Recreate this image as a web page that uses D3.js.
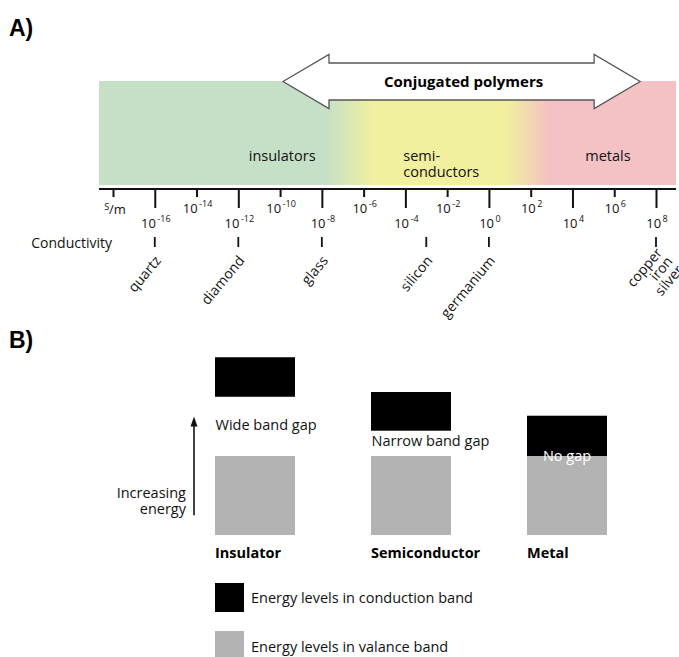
<!DOCTYPE html>
<html><head><meta charset="utf-8">
<script src="https://cdn.jsdelivr.net/npm/d3@7"></script>
<style>
body{margin:0;background:#fff;}
svg{display:block;font-family:"Open Sans",sans-serif;}
</style></head>
<body><svg id="c" width="679" height="657"></svg>
<script>
// ---------- Panel A data ----------
const tickExponents = [-18,-16,-14,-12,-10,-8,-6,-4,-2,0,2,4,6,8];
const majorExponents = [-16,-12,-8,-4,0,4,8];
const materialNames = [["quartz"],["diamond"],["glass"],["silicon"],["germanium"],["copper","iron","silver"]];
const materialExponents = [-16,-12,-8,-3,0,8];
const regionNames = [["insulators"],["semi-","conductors"],["metals"]];
const regionExponents = [-9.9,-4.1,5.7];
const regionAnchors = ["middle","start","middle"];
const bandExtent = [-18.67, 8.96];
const gradientExponents = [-7.9,-5.45,0.8,2.9];
const gradientColors = ["#c6dfc7","#f1f09e","#f1f09e","#f4c1c5"];
const conjugatedRange = [-9.86, 7.24];
const conjugatedLabel = "Conjugated polymers";

// ---------- Panel B data ----------
const bandMaterials = ["Insulator","Semiconductor","Metal"];
const valenceBottom = [0,0,0];
const valenceTop = [1,1,1];
const conductionBottom = [1.75,1.32,1.0];
const conductionTop = [2.25,1.81,1.51];
const gapLabels = ["Wide band gap","Narrow band gap","No gap"];
const gapLabelEnergy = [1.33,1.13,0.94];
const energyArrow = [0.25,1.5];
const legendLabels = ["Energy levels in conduction band","Energy levels in valance band"];
const legendColors = ["#000000","#b3b3b3"];

const svg = d3.select("#c");

// Panel labels
svg.append("text").attr("x",9).attr("y",36).attr("font-family","Liberation Sans, Arial, sans-serif")
  .attr("font-weight","bold").attr("font-size",23).text("A)");
svg.append("text").attr("x",9).attr("y",348).attr("font-family","Liberation Sans, Arial, sans-serif")
  .attr("font-weight","bold").attr("font-size",23).text("B)");

// ---------- Panel A ----------
const x = d3.scaleLinear().domain([-18,8]).range([113,656]);
const bandTop = 81, bandBottom = 185, axisY = 189;

const defs = svg.append("defs");
const grad = defs.append("linearGradient").attr("id","cond").attr("gradientUnits","userSpaceOnUse")
  .attr("x1",x(bandExtent[0])).attr("x2",x(bandExtent[1])).attr("y1",0).attr("y2",0);
gradientExponents.forEach((e,i)=>{
  grad.append("stop").attr("offset",(x(e)-x(bandExtent[0]))/(x(bandExtent[1])-x(bandExtent[0])))
    .attr("stop-color",gradientColors[i]);
});
svg.append("rect").attr("x",x(bandExtent[0])).attr("y",bandTop)
  .attr("width",x(bandExtent[1])-x(bandExtent[0])).attr("height",bandBottom-bandTop)
  .attr("fill","url(#cond)");

// Double arrow
const ax0 = x(conjugatedRange[0]), ax1 = x(conjugatedRange[1]), cy = 81.5, head = 46, sh = 18.5, hh = 27;
const pts = [[ax0,cy],[ax0+head,cy-hh],[ax0+head,cy-sh],[ax1-head,cy-sh],[ax1-head,cy-hh],[ax1,cy],
  [ax1-head,cy+hh],[ax1-head,cy+sh],[ax0+head,cy+sh],[ax0+head,cy+hh]];
svg.append("polygon").attr("points",pts.map(p=>p.join(",")).join(" "))
  .attr("fill","#fff").attr("stroke","#555").attr("stroke-width",1.3).attr("stroke-linejoin","miter");
svg.append("text").attr("x",(ax0+ax1)/2+2).attr("y",87).attr("text-anchor","middle")
  .attr("font-weight","bold").attr("font-size",15).attr("fill","#000").text(conjugatedLabel);

// Region labels
regionNames.forEach((lines,i)=>{
  const t = svg.append("text").attr("text-anchor",regionAnchors[i]).attr("font-size",14.5).attr("fill","#111");
  lines.forEach((l,j)=>t.append("tspan").attr("x",x(regionExponents[i])).attr("y",161+j*15.5).text(l));
});

// Axis
const axis = d3.axisBottom(x).tickValues(tickExponents).tickFormat("").tickSizeOuter(0).tickSize(7);
const g = svg.append("g").attr("transform",`translate(0,${axisY})`).call(axis);
g.select(".domain").attr("d",`M${x(bandExtent[0])},0H${x(bandExtent[1])}`).attr("stroke","#111").attr("stroke-width",2.2);
g.selectAll(".tick line").attr("stroke","#111").attr("stroke-width",2)
  .attr("y2",d=>majorExponents.includes(d)?19:8);

// Tick labels (10^n)
tickExponents.forEach(e=>{
  if(e===-18){
    svg.append("text").attr("x",x(e)+2).attr("y",214).attr("text-anchor","middle").attr("font-size",13).attr("fill","#111")
      .html('<tspan font-size="9" dy="-4">S</tspan><tspan dy="4">/m</tspan>');
    return;
  }
  const major = majorExponents.includes(e);
  const t = svg.append("text").attr("x",x(e)+1).attr("y",major?228:213).attr("text-anchor","middle")
    .attr("font-size",13).attr("fill","#111");
  t.append("tspan").text("10");
  t.append("tspan").attr("font-size",9).attr("dy",-6).attr("dx",1.5).text(String(e));
});

svg.append("text").attr("x",112).attr("y",248).attr("text-anchor","end").attr("font-size",14).attr("fill","#111").text("Conductivity");

// Materials
materialNames.forEach((lines,i)=>{
  const mx = x(materialExponents[i]);
  svg.append("line").attr("x1",mx).attr("x2",mx).attr("y1",237).attr("y2",247).attr("stroke","#111").attr("stroke-width",1.8);
  const t = svg.append("text").attr("transform",`translate(${mx+7},${lines.length>1?253:261}) rotate(-50)`)
    .attr("text-anchor","end").attr("font-size",14).attr("fill","#111");
  lines.forEach((l,j)=>t.append("tspan").attr("x",0).attr("y",j*13.5).text(l));
});

// ---------- Panel B ----------
const y = d3.scaleLinear().domain([0,1]).range([535,456]);
const xb = d3.scaleBand().domain(bandMaterials).range([215,607]).paddingInner(0.4872).paddingOuter(0);

bandMaterials.forEach((m,i)=>{
  svg.append("rect").attr("x",xb(m)).attr("width",xb.bandwidth())
    .attr("y",y(valenceTop[i])).attr("height",y(valenceBottom[i])-y(valenceTop[i])).attr("fill","#b3b3b3");
  svg.append("rect").attr("x",xb(m)).attr("width",xb.bandwidth())
    .attr("y",y(conductionTop[i])).attr("height",y(conductionBottom[i])-y(conductionTop[i])).attr("fill","#000");
  const noGap = conductionBottom[i] <= valenceTop[i];
  svg.append("text").attr("x",noGap?xb(m)+xb.bandwidth()/2:xb(m)+0.5).attr("y",y(gapLabelEnergy[i]))
    .attr("text-anchor",noGap?"middle":"start").attr("font-size",14.5).attr("fill",noGap?"#fff":"#111").text(gapLabels[i]);
  svg.append("text").attr("x",xb(m)).attr("y",558).attr("font-weight","bold").attr("font-size",14.5).attr("fill","#000").text(m);
});

// Energy arrow
svg.append("line").attr("x1",194).attr("x2",194).attr("y1",y(energyArrow[0])).attr("y2",y(energyArrow[1])+9)
  .attr("stroke","#111").attr("stroke-width",1.6);
svg.append("path").attr("d",`M${194-3.5},${y(energyArrow[1])+10}L194,${y(energyArrow[1])}L${194+3.5},${y(energyArrow[1])+10}Z`).attr("fill","#111");
const et = svg.append("text").attr("text-anchor","end").attr("font-size",14.5).attr("fill","#111");
et.append("tspan").attr("x",186).attr("y",498).text("Increasing");
et.append("tspan").attr("x",186).attr("y",514).text("energy");

// Legend
legendLabels.forEach((l,i)=>{
  svg.append("rect").attr("x",215).attr("y",583+i*48).attr("width",29).attr("height",29).attr("fill",legendColors[i]);
  svg.append("text").attr("x",251).attr("y",603+i*49).attr("font-size",14.5).attr("fill","#111").text(l);
});
</script></body></html>
